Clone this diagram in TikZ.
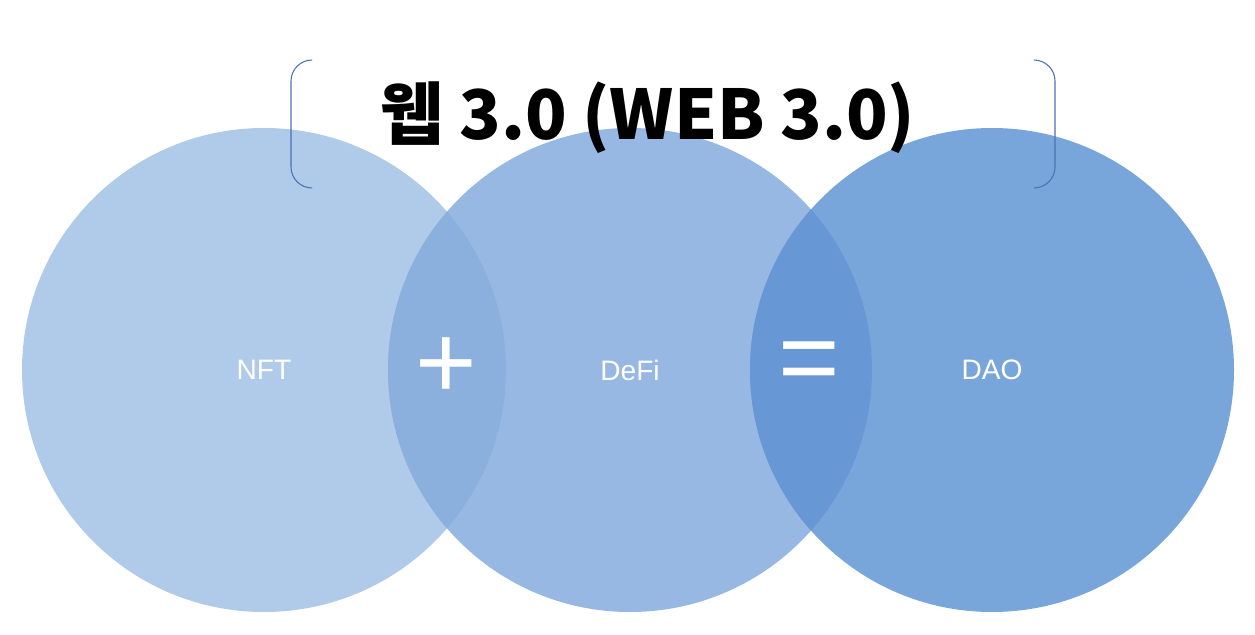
\documentclass[tikz,border=0pt]{standalone}
\usepackage{fontspec}
\setmainfont{Liberation Sans}
\newfontfamily\cjk{Noto Sans CJK KR}
\definecolor{cA}{HTML}{B0CAEA}
\definecolor{cB}{HTML}{97B8E2}
\definecolor{cC}{HTML}{79A6DA}
\definecolor{cAB}{HTML}{8BB0DE}
\definecolor{cBC}{HTML}{6797D5}
\definecolor{brk}{HTML}{4A72B0}
\begin{document}
\begin{tikzpicture}[x=0.02cm,y=-0.02cm,
  lbl/.style={text=white,font=\fontsize{16}{18}\selectfont},
  op/.style={text=white,font=\fontsize{60}{60}\selectfont}]
\useasboundingbox (0,0) rectangle (1255,635);
\fill[cA] (264,370) circle (242);
\fill[cB] (630,370) circle (242);
\fill[cC] (992,370) circle (242);
\begin{scope}
\clip (264,370) circle (242);
\fill[cAB] (630,370) circle (242);
\end{scope}
\begin{scope}
\clip (630,370) circle (242);
\fill[cBC] (992,370) circle (242);
\end{scope}
\draw[brk,line width=0.6pt,rounded corners=12] (312,60) -- (291,60) -- (291,188) -- (312,188);
\draw[brk,line width=0.6pt,rounded corners=12] (1034,60) -- (1055,60) -- (1055,188) -- (1034,188);
\node (title) at (648,118) {\cjk\bfseries\fontsize{39}{44}\selectfont 웹 3.0 (WEB 3.0)};
\node[lbl] (nft) at (264,370) {NFT};
\node[lbl] (defi) at (630,370) {DeFi};
\node[lbl] (dao) at (992,370) {DAO};
\node[op] (plus) at (446,368) {+};
\node[op] (eq) at (809,368) {=};
\end{tikzpicture}
\end{document}
